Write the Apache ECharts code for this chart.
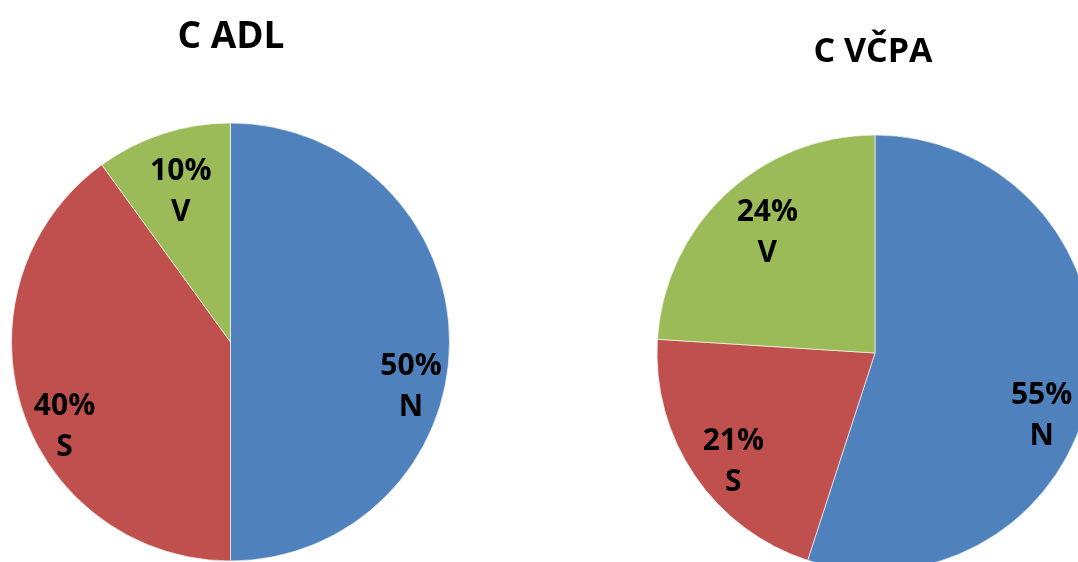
<!DOCTYPE html>
<html>
<head>
<meta charset="utf-8">
<script src="https://cdn.jsdelivr.net/npm/echarts@6/dist/echarts.min.js"></script>
<style>
  html, body { margin: 0; padding: 0; background: #ffffff; }
  #chart { width: 1078px; height: 562px; }
</style>
</head>
<body>
<div id="chart"></div>
<script>
// Category names shared by both pies (clockwise from 12 o'clock)
const categories = ['N', 'S', 'V'];
// Share of each category, in percent
const adlValues = [50, 40, 10];
const vcpaValues = [55, 21, 24];
// Pie titles
const titles = ['C ADL', 'C VČPA'];

const sliceColors = ['#4F81BD', '#C0504D', '#9BBB59'];

// Nudges applied to the "inside" label anchor, per slice
const labelNudge = [
  [[68, 45], [-59, 50], [-15, -43]],
  [[56, 45], [-49, 46], [-31, -38]]
];

function buildData(values) {
  return categories.map((name, i) => ({
    name: name,
    value: values[i],
    itemStyle: { color: sliceColors[i] }
  }));
}

function pieSeries(idx, values, center, radius) {
  return {
    type: 'pie',
    center: center,
    radius: radius,
    startAngle: 90,
    clockwise: true,
    silent: true,
    itemStyle: { borderColor: 'rgba(255,255,255,0.6)', borderWidth: 1 },
    label: {
      show: true,
      position: 'inside',
      formatter: '{c}%\n{b}',
      color: '#000000',
      fontFamily: 'Open Sans',
      fontWeight: 'bold',
      fontSize: 30,
      lineHeight: 41,
      align: 'center'
    },
    labelLine: { show: false },
    labelLayout: function (p) {
      const n = labelNudge[idx][p.dataIndex];
      return { dx: n[0], dy: n[1] };
    },
    data: buildData(values)
  };
}

const chart = echarts.init(document.getElementById('chart'), null, { renderer: 'canvas' });
chart.setOption({
  animation: false,
  backgroundColor: '#ffffff',
  title: [
    {
      text: titles[0],
      left: 226,
      top: 14,
      textAlign: 'center',
      textStyle: { fontFamily: 'Open Sans', fontWeight: 'bold', fontSize: 37, color: '#000000' }
    },
    {
      text: titles[1],
      left: 868,
      top: 30,
      textAlign: 'center',
      textStyle: { fontFamily: 'Open Sans', fontWeight: 'bold', fontSize: 34, color: '#000000' }
    }
  ],
  series: [
    pieSeries(0, adlValues, [230.5, 342], 219),
    pieSeries(1, vcpaValues, [875, 353], 218)
  ]
});
</script>
</body>
</html>
